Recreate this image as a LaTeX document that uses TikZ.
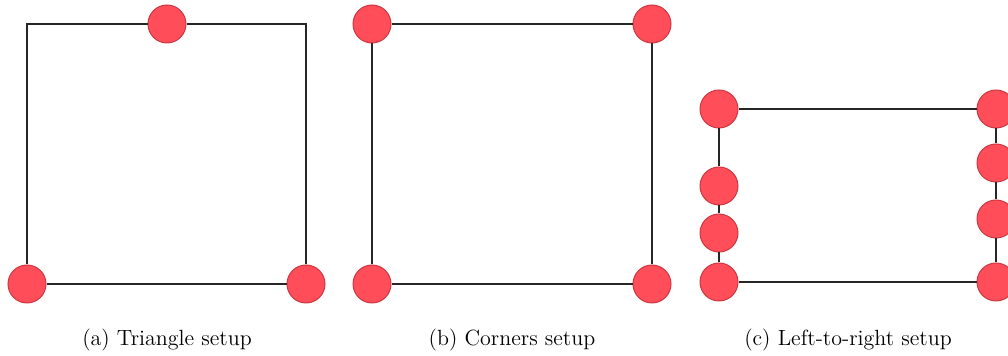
\documentclass[tikz,border=0pt]{standalone}
\usepackage{tikz}
\usetikzlibrary{positioning}
\definecolor{SpotRed}{RGB}{255,77,90}
\definecolor{SpotEdge}{RGB}{205,55,65}
\tikzset{
  spot/.style={circle,draw=SpotEdge,fill=SpotRed,line width=0.5pt,
    minimum size=19pt,inner sep=0pt},
  wire/.style={draw=black!85,line width=0.75pt},
  caption/.style={font=\fontsize{11}{13}\selectfont,anchor=base},
}
\begin{document}
\begin{tikzpicture}[x=0.5pt,y=-0.5pt]
\useasboundingbox (0,0) rectangle (1008,356);
% (a) triangle
\node[spot] (atop) at (167,24) {};
\node[spot] (abl) at (27,284) {};
\node[spot] (abr) at (306,284) {};
\coordinate (atl) at (abl|-atop);
\coordinate (atr) at (abr|-atop);
\draw[wire] (atop) -- (atl) -- (abl);
\draw[wire] (atop) -- (atr) -- (abr);
\draw[wire] (abl) -- (abr);
% (b) corners
\node[spot] (btl) at (372,24) {};
\node[spot] (btr) at (652,24) {};
\node[spot] (bbl) at (372,284) {};
\node[spot] (bbr) at (652,284) {};
\draw[wire] (btl) -- (btr) -- (bbr) -- (bbl) -- (btl);
% (c) left-to-right
\node[spot] (cl1) at (719,109) {};
\node[spot] (cl2) at (719,186) {};
\node[spot] (cl3) at (719,233) {};
\node[spot] (cl4) at (719,282) {};
\node[spot] (cr1) at (996,109) {};
\node[spot] (cr2) at (996,163) {};
\node[spot] (cr3) at (996,219) {};
\node[spot] (cr4) at (996,282) {};
\draw[wire] (cl1) -- (cr1);
\draw[wire] (cl4) -- (cr4);
\draw[wire] (cl1) -- (cl2) -- (cl3) -- (cl4);
\draw[wire] (cr1) -- (cr2) -- (cr3) -- (cr4);
% captions
\node[caption] (capa) at (167,346) {(a) Triangle setup};
\node[caption] (capb) at (512,346) {(b) Corners setup};
\node[caption] (capc) at (848,346) {(c) Left-to-right setup};
\end{tikzpicture}
\end{document}
